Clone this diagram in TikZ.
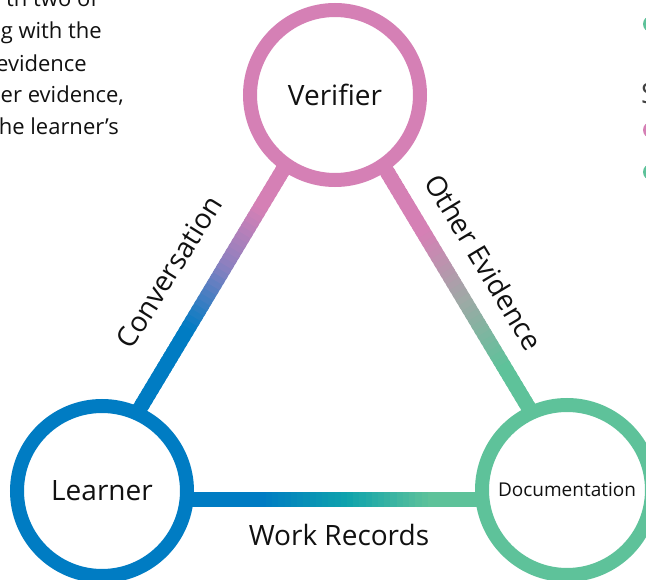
\documentclass[tikz,border=0pt]{standalone}
\usepackage{fontspec}
\setmainfont{Open Sans}
\usetikzlibrary{calc}
\definecolor{cblue}{HTML}{007CC3}
\definecolor{cpink}{HTML}{D580B5}
\definecolor{cgreen}{HTML}{5EC29A}
\definecolor{cpurple}{HTML}{8A80C0}
\definecolor{cgrey}{HTML}{9EA9A6}
\definecolor{cteal}{HTML}{0FA3AC}
\definecolor{ctext}{HTML}{111111}
\tikzset{
  ring/.style={circle, draw=#1, line width=14pt, fill=white, minimum size=170pt, inner sep=0pt, text=ctext},
  edgeline/.style={line width=15pt, line cap=butt},
  lbl/.style={font=\fontsize{28}{34}\selectfont, text=ctext, inner sep=0pt},
  bodytxt/.style={font=\fontsize{22}{26}\selectfont, text=ctext, inner sep=0pt, anchor=base east},
  keydot/.style={circle, fill=#1, minimum size=16pt, inner sep=0pt},
}
% gradient edge: from, to, c1, c2, c3, s1, s2, s3
\newcommand{\gradedge}[8]{%
  \foreach \i in {0,...,79}{%
    \pgfmathsetmacro{\ta}{\i/80}%
    \pgfmathsetmacro{\tb}{min(1,(\i+1.6)/80)}%
    \pgfmathsetmacro{\tm}{(\i+0.5)/80}%
    \pgfmathtruncatemacro{\pa}{100*max(0,min(1,(\tm-#6)/(#7-#6)))}%
    \pgfmathtruncatemacro{\pb}{100*max(0,min(1,(\tm-#7)/(#8-#7)))}%
    \ifdim\tm pt<#7pt
      \colorlet{segcol}{#4!\pa!#3}%
    \else
      \colorlet{segcol}{#5!\pb!#4}%
    \fi
    \draw[edgeline, segcol] ($(#1)!\ta!(#2)$) -- ($(#1)!\tb!(#2)$);
  }%
}
\begin{document}
\begin{tikzpicture}[x=1pt,y=-1pt]
\useasboundingbox (0,0) rectangle (646,580);
\clip (0,0) rectangle (646,580);
\fill[white] (0,0) rectangle (646,580);
% triangle corners of the connectors
\coordinate (tV) at (334.5,84);
\coordinate (tL) at (85.6,499);
\coordinate (tD) at (583.4,499);
\gradedge{tL}{tV}{cblue}{cpurple}{cpink}{0.41}{0.56}{0.70}
\gradedge{tV}{tD}{cpink}{cgrey}{cgreen}{0.36}{0.52}{0.68}
\gradedge{tL}{tD}{cblue}{cteal}{cgreen}{0.356}{0.525}{0.69}
% circles
\node[ring=cpink, font=\fontsize{28}{34}\selectfont] (V) at (335,95) {Verifier};
\node[ring=cblue, font=\fontsize{28}{34}\selectfont] (L) at (102,491) {Learner};
\node[ring=cgreen, font=\fontsize{19}{23}\selectfont] (D) at (567,490) {Documentation};
% connector labels
\node[lbl, rotate=58] (conv) at (169,272) {Conversation};
\node[lbl, rotate=-59] (other) at (484,262) {Other Evidence};
\node[lbl] (work) at (339,535) {Work Records};
% cropped body text at top left
\node[bodytxt] (t1) at (98,7) {th two of};
\node[bodytxt] (t2) at (102,39) {g with the};
\node[bodytxt] (t3) at (87,72) {evidence};
\node[bodytxt] (t4) at (124,103) {er evidence,};
\node[bodytxt] (t5) at (119,135) {he learner’s};
% cropped legend at right edge
\node[keydot=cgreen] (k1) at (651,24) {};
\node[font=\fontsize{28}{34}\selectfont, text=ctext!80, inner sep=0pt, anchor=base west] (kS) at (641,104) {S};
\node[keydot=cpink] (k2) at (651,130) {};
\node[keydot=cgreen] (k3) at (651,172) {};
\end{tikzpicture}
\end{document}
